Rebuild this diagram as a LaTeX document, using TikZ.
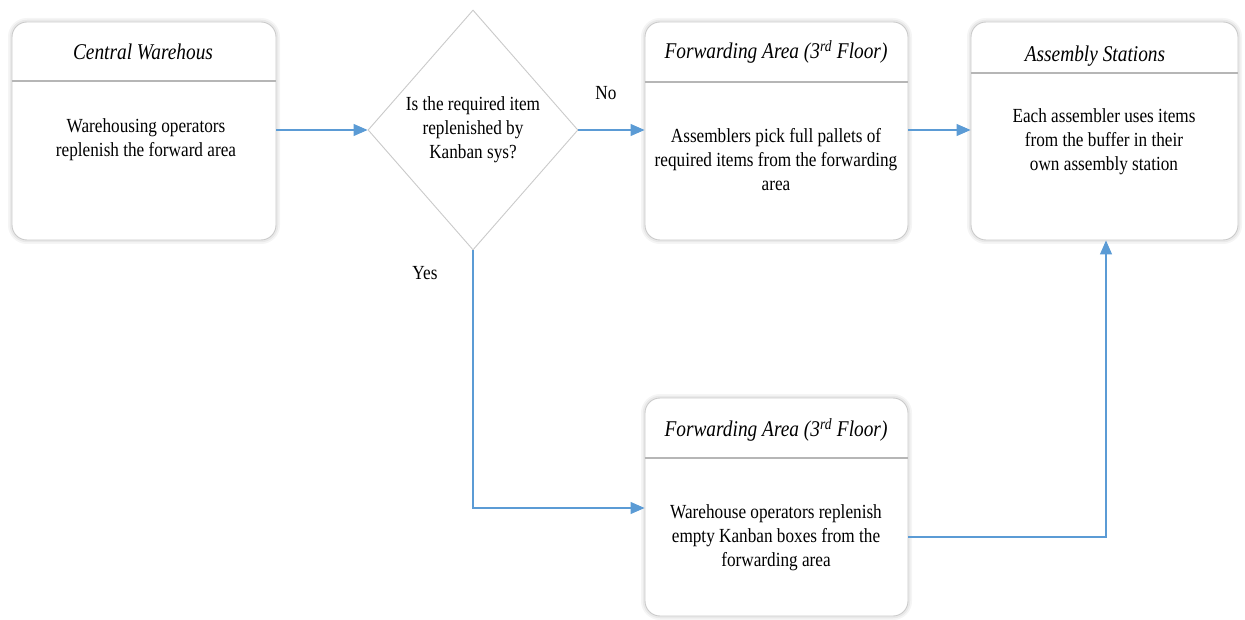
\documentclass[tikz,border=0pt]{standalone}
\usepackage{fontspec}
\setmainfont{Liberation Serif}[FakeStretch=0.86]
\usetikzlibrary{arrows.meta,shapes.geometric}
\definecolor{flowblue}{HTML}{5B9BD5}
\definecolor{edgegray}{HTML}{CACACA}
\begin{document}
\begin{tikzpicture}[x=1pt,y=-1pt,
  every node/.style={font=\fontsize{20}{24}\selectfont},
  softglow/.style={
    preaction={draw=black,draw opacity=0.04,line width=8pt},
    preaction={draw=black,draw opacity=0.05,line width=4.5pt}},
  card/.style={rectangle,rounded corners=15pt,draw=edgegray,line width=0.9pt,
    fill=white,softglow,minimum width=#1,minimum height=218pt,inner sep=0pt},
  card/.default=263pt,
  decision/.style={diamond,draw=edgegray,line width=0.9pt,fill=white,
    minimum width=210pt,minimum height=240pt,inner sep=0pt},
  title/.style={font=\fontsize{22.5}{26}\selectfont\itshape},
  body/.style={align=center},
  divider/.style={draw=edgegray!90!black,line width=1.3pt},
  flow/.style={draw=flowblue,line width=1.1pt,
    -{Triangle[length=14pt,width=12pt]}},
  link/.style={draw=flowblue,line width=1.1pt}]

\useasboundingbox (0,0) rectangle (1245,620);

% boxes
\node[card=264pt] (wh) at (144,131) {};
\node[decision] (dec) at (473,130) {};
\node[card] (fa) at (776.5,131) {};
\node[card=267pt] (as) at (1104.5,131) {};
\node[card] (fk) at (776.5,507) {};

% header dividers
\draw[divider] (wh.west |- 0,81) -- (wh.east |- 0,81);
\draw[divider] (fa.west |- 0,82) -- (fa.east |- 0,82);
\draw[divider] (as.west |- 0,73) -- (as.east |- 0,73);
\draw[divider] (fk.west |- 0,458) -- (fk.east |- 0,458);

% titles
\node[title] (whT) at (143,52) {Central Warehous};
\node[title] (faT) at (776,52) {Forwarding Area (3\textsuperscript{rd} Floor)};
\node[title] (asT) at (1095,56) {Assembly Stations};
\node[title] (fkT) at (776,430) {Forwarding Area (3\textsuperscript{rd} Floor)};

% body texts
\node[body] (whB) at (146,140) {Warehousing operators\\replenish the forward area};
\node[body] (decB) at (473,130) {Is the required item\\replenished by\\Kanban sys?};
\node[body] (faB) at (776,160) {Assemblers pick full pallets of\\required items from the forwarding\\area};
\node[body] (asB) at (1104,142) {Each assembler uses items\\from the buffer in their\\own assembly station};
\node[body] (fkB) at (776,538) {Warehouse operators replenish\\empty Kanban boxes from the\\forwarding area};

% branch labels
\node (no) at (606,93) {No};
\node (yes) at (425,273) {Yes};

% connectors
\draw[flow] (wh.east |- 0,130) -- (dec.west);
\draw[flow] (dec.east) -- (fa.west |- 0,130);
\draw[flow] (fa.east |- 0,130) -- (as.west |- 0,130);
\draw[flow] (dec.south) |- (fk.west |- 0,508);
\coordinate (fkOut) at (fk.east |- 0,537);
\draw[flow] (fkOut) -| (as.south -| 1106,0);
\end{tikzpicture}
\end{document}
